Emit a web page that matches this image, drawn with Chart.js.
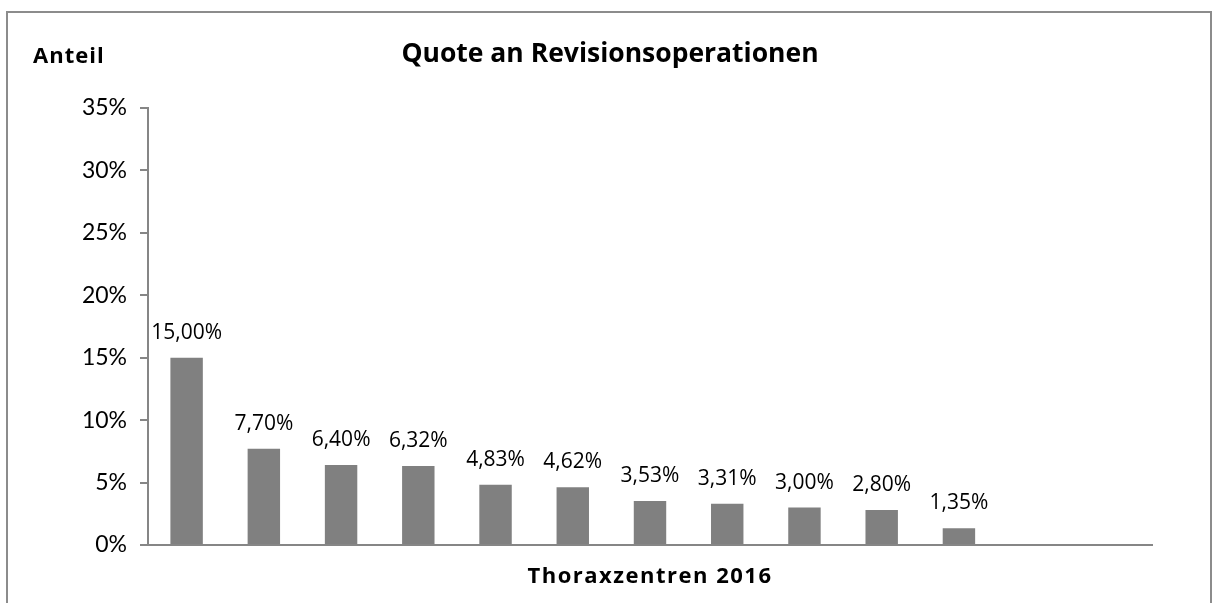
<!DOCTYPE html>
<html>
<head>
<meta charset="utf-8">
<script src="https://cdn.jsdelivr.net/npm/chart.js@4"></script>
<style>
  body { margin: 0; background: #fff; }
  #wrap { position: relative; width: 1222px; height: 603px; }
  #rahmen { position: absolute; left: 6px; top: 11px; width: 1206px; height: 600px;
            border: 2px solid #8c8c8c; border-bottom: none; box-sizing: border-box; }
  canvas { position: absolute; left: 0; top: 0; }
</style>
</head>
<body>
<div id="wrap">
  <div id="rahmen"></div>
  <canvas id="myChart" width="1222" height="603"></canvas>
</div>
<script>
// daten
var zentren = ['', '', '', '', '', '', '', '', '', '', '', '', ''];
var quoten = [15.00, 7.70, 6.40, 6.32, 4.83, 4.62, 3.53, 3.31, 3.00, 2.80, 1.35, null, null];
var yTicks = [0, 5, 10, 15, 20, 25, 30, 35];

var schrift = '"Open Sans", Lato, sans-serif';
var schriftAchse = '"Liberation Sans Narrow", Lato, sans-serif';

function fmt(v, dez) {
    return v.toFixed(dez).replace('.', ',') + '%';
}

// werte ueber den balken + titel
var beschriftung = {
    id: 'beschriftung',
    afterDraw: function (chart) {
        var ctx = chart.ctx;
        var area = chart.chartArea;
        ctx.save();
        ctx.fillStyle = '#000';
        ctx.font = '21px ' + schrift;
        ctx.textAlign = 'center';
        ctx.textBaseline = 'alphabetic';
        chart.getDatasetMeta(0).data.forEach(function (bar, i) {
            if (quoten[i] == null) return;
            ctx.fillText(fmt(quoten[i], 2), bar.x, bar.y - 19);
        });

        ctx.font = 'bold 26.5px ' + schrift;
        ctx.fillText('Quote an Revisionsoperationen', 610, 62);

        ctx.font = 'bold 22px ' + schrift;
        ctx.textAlign = 'left';
        ctx.letterSpacing = '1px';
        ctx.fillText('Anteil', 33, 63);

        ctx.letterSpacing = '1.5px';
        ctx.textAlign = 'center';
        ctx.fillText('Thoraxzentren 2016', (area.left + area.right) / 2, 583);
        ctx.restore();
    }
};

var ctx1 = document.getElementById('myChart').getContext('2d');
new Chart(ctx1, {
    type: 'bar',
    data: {
        labels: zentren,
        datasets: [{
                label: '',
                data: quoten,
                backgroundColor: '#808080',
                borderWidth: 0,
                barPercentage: 0.42,
                categoryPercentage: 1
            }]
    },
    options: {
        responsive: false,
        animation: false,
        layout: {
            padding: {left: 0, right: 70, top: 108, bottom: 58}
        },
        plugins: {
            legend: {display: false},
            tooltip: {enabled: false}
        },
        scales: {
            x: {
                grid: {display: false, drawTicks: false},
                border: {color: '#868686', width: 2},
                ticks: {display: false}
            },
            y: {
                min: 0,
                max: 35,
                afterFit: function (scale) {
                    scale.width = 148;
                },
                afterBuildTicks: function (scale) {
                    scale.ticks = yTicks.map(function (v) {
                        return {value: v};
                    });
                },
                grid: {display: true, drawOnChartArea: false, tickLength: 8, color: '#868686', lineWidth: 2},
                border: {color: '#868686', width: 2},
                ticks: {
                    padding: 13,
                    color: '#000',
                    font: {family: schriftAchse, size: 23},
                    callback: function (value) {
                        return value + '%';
                    }
                }
            }
        }
    },
    plugins: [beschriftung]
});
</script>
</body>
</html>
